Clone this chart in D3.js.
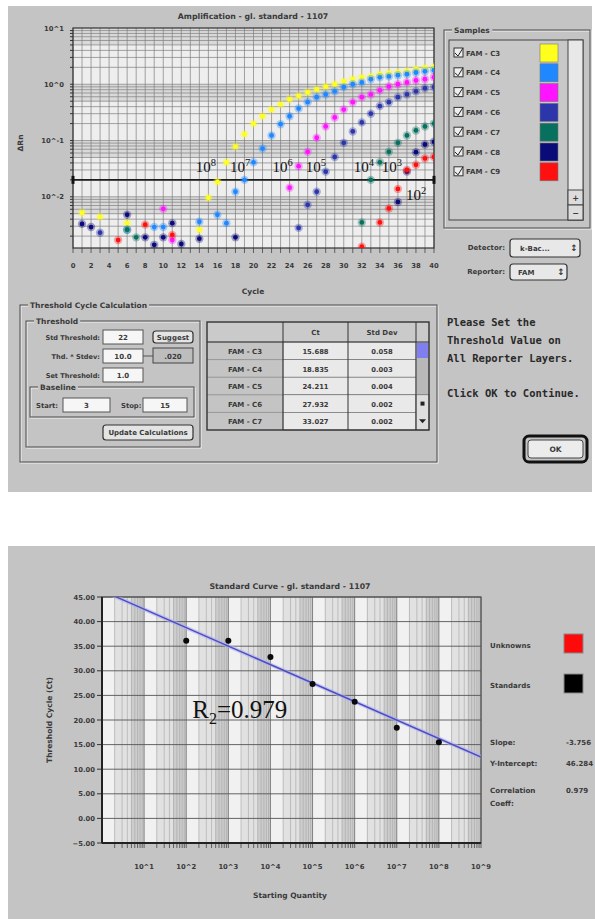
<!DOCTYPE html>
<html lang="en">
<head>
<meta charset="utf-8">
<title>Amplification - gl. standard - 1107</title>
<script src="https://d3js.org/d3.v7.min.js"></script>
<style>
  body { margin: 0; background: #fff; }
  svg { display: block; }
  .ui { font-family: "DejaVu Sans", sans-serif; font-weight: bold; fill: #3a3a3a; }
  .msg { font-family: "DejaVu Sans Mono", monospace; font-weight: bold; fill: #2a2a2a; }
  .serif { font-family: "Liberation Serif", "DejaVu Serif", serif; fill: #111; }
</style>
</head>
<body>
<svg id="chart" width="595" height="919"></svg>
<script>
// ---- amplification plot: [cycle, delta Rn] ----
const sampleNames = ["FAM - C3", "FAM - C4", "FAM - C5", "FAM - C6", "FAM - C7", "FAM - C8", "FAM - C9"];
const sampleColors = ["#ffff1e", "#2088ff", "#ff14ff", "#2c36aa", "#08705e", "#0a0a78", "#ff1010"];

const c3Rn = [[1, .0052], [3, .0044], [6, .0034], [14, .0026], [15, .0096], [16, .0185], [17, .041], [18, .078],
  [19, .129], [20, .20], [21, .27], [22, .355], [23, .44], [24, .54], [25, .62], [26, .72], [27, .81], [28, .91],
  [29, 1.0], [30, 1.12], [31, 1.23], [32, 1.33], [33, 1.38], [34, 1.51], [35, 1.58], [36, 1.62], [37, 1.70],
  [38, 1.86], [39, 1.95], [40, 2.05]];
const c4Rn = [[6, .0026], [9, .0029], [10, .0029], [14, .0036], [16, .0048], [17, .0034], [18, .0123], [19, .020],
  [20, .041], [21, .072], [22, .123], [23, .195], [24, .27], [25, .37], [26, .48], [27, .59], [28, .66], [29, .75],
  [30, .89], [31, 1.0], [32, 1.08], [33, 1.23], [34, 1.33], [35, 1.38], [36, 1.45], [37, 1.51], [38, 1.62],
  [39, 1.70], [40, 1.78]];
const c5Rn = [[10, .0061], [11, .0017], [24, .0145], [25, .035], [26, .063], [27, .112], [28, .178], [29, .257],
  [30, .355], [31, .48], [32, .59], [33, .66], [34, .78], [35, .91], [36, 1.0], [37, 1.08], [38, 1.17], [39, 1.23],
  [40, 1.33]];
const c6Rn = [[3, .0023], [25, .0028], [26, .0072], [27, .0123], [28, .028], [29, .051], [30, .091], [31, .145],
  [32, .21], [33, .30], [34, .41], [35, .48], [36, .59], [37, .66], [38, .75], [39, .85], [40, .89]];
const c7Rn = [[6, .0026], [7, .0019], [32, .0035], [33, .020], [34, .041], [35, .063], [36, .091], [37, .123],
  [38, .151], [39, .178], [40, .20]];
const c8Rn = [[1, .0033], [2, .0029], [6, .0048], [8, .0019], [9, .0014], [10, .0019], [11, .0034], [12, .00145],
  [14, .0018], [18, .0019], [36, .0081], [37, .028], [38, .062], [39, .085], [40, .095]];
const c9Rn = [[5, .0017], [8, .0032], [11, .0021], [32, .0013], [34, .0035], [35, .0062], [36, .0138], [37, .030],
  [38, .037], [39, .048], [40, .051]];
const sampleRn = [c3Rn, c4Rn, c5Rn, c6Rn, c7Rn, c8Rn, c9Rn];

const threshold = 0.02;
const cycleTicks = [0, 2, 4, 6, 8, 10, 12, 14, 16, 18, 20, 22, 24, 26, 28, 30, 32, 34, 36, 38, 40];
const rnTicks = [10, 1, 0.1, 0.01];
const rnTickLabels = ["10^1", "10^0", "10^-1", "10^-2"];

// dilution labels written on the plot: [exponent, cycle, delta Rn]
const dilutionLabels = [["8", 13.6, .028], ["7", 17.4, .028], ["6", 22.1, .028], ["5", 25.8, .028],
  ["4", 31.1, .028], ["3", 34.2, .028], ["2", 36.9, .0088]];

// Ct table
const tableNames = ["FAM - C3", "FAM - C4", "FAM - C5", "FAM - C6", "FAM - C7"];
const ctValues = ["15.688", "18.835", "24.211", "27.932", "33.027"];
const stdDevValues = ["0.058", "0.003", "0.004", "0.002", "0.002"];

// ---- standard curve ----
const stdQuantity = [1e2, 1e3, 1e4, 1e5, 1e6, 1e7, 1e8];
const stdCt = [36.1, 36.1, 32.8, 27.3, 23.7, 18.4, 15.5];
const fitSlope = -3.756;
const fitIntercept = 46.284;
const fitR = "0.979";
const ctTicks = [-5, 0, 5, 10, 15, 20, 25, 30, 35, 40, 45];
const qtyTicks = [1e1, 1e2, 1e3, 1e4, 1e5, 1e6, 1e7, 1e8, 1e9];
const qtyTickLabels = ["10^1", "10^2", "10^3", "10^4", "10^5", "10^6", "10^7", "10^8", "10^9"];

const svg = d3.select("#chart");

// window backgrounds
svg.append("rect").attr("x", 8).attr("y", 6).attr("width", 584).attr("height", 486).attr("fill", "#c4c4c4");
svg.append("rect").attr("x", 8).attr("y", 546).attr("width", 587).attr("height", 373).attr("fill", "#c4c4c4");

function label(g, x, y, str, size, anchor, cls) {
    return g.append("text")
        .attr("class", cls || "ui")
        .attr("x", x).attr("y", y)
        .attr("font-size", size)
        .attr("text-anchor", anchor || "start")
        .text(str);
}

function groupBox(g, x, y, w, h, title) {
    g.append("rect").attr("x", x + 1).attr("y", y + 1).attr("width", w).attr("height", h)
        .attr("fill", "none").attr("stroke", "#f2f2f2");
    g.append("rect").attr("x", x).attr("y", y).attr("width", w).attr("height", h)
        .attr("fill", "none").attr("stroke", "#4a4a4a");
    if (title) {
        let t = label(g, x + 10, y + 3, title, 7.5);
        let bb = t.node().getBBox();
        g.insert("rect", () => t.node())
            .attr("x", bb.x - 2).attr("y", bb.y).attr("width", bb.width + 4).attr("height", bb.height)
            .attr("fill", "#c4c4c4");
    }
}

function inputBox(g, x, y, w, h, str) {
    g.append("rect").attr("x", x).attr("y", y).attr("width", w).attr("height", h)
        .attr("fill", "#f6f6f6").attr("stroke", "#555");
    label(g, x + w / 2, y + h / 2 + 2.5, str, 7, "middle").attr("font-weight", "normal");
}

function button(g, x, y, w, h, str) {
    g.append("rect").attr("x", x).attr("y", y).attr("width", w).attr("height", h).attr("rx", 3)
        .attr("fill", "#e4e4e4").attr("stroke", "#333").attr("stroke-width", 1.2);
    label(g, x + w / 2, y + h / 2 + 2.5, str, 7, "middle");
}

// ================= amplification plot =================
const amp = { left: 73, right: 434, top: 28, bottom: 248 };
const xCycle = d3.scaleLinear().domain([0, 40]).range([amp.left, amp.right]);
const yRn = d3.scaleLog().domain([0.00123, 10]).range([amp.bottom, amp.top]);

const ampG = svg.append("g");
svg.append("clipPath").attr("id", "ampClip").append("rect")
    .attr("x", amp.left).attr("y", amp.top).attr("width", amp.right - amp.left).attr("height", amp.bottom - amp.top);

ampG.append("rect").attr("x", amp.left).attr("y", amp.top)
    .attr("width", amp.right - amp.left).attr("height", amp.bottom - amp.top).attr("fill", "#eeeeee");

const decadeTops = [10, 1, 0.1, 0.01];
ampG.selectAll("rect.band").data(decadeTops).join("rect")
    .attr("class", "band")
    .attr("x", amp.left).attr("width", amp.right - amp.left)
    .attr("y", d => yRn(d))
    .attr("height", d => yRn(d * 0.5) - yRn(d))
    .attr("fill", "#d9d9d9");

let minorRn = [];
[-3, -2, -1, 0].forEach(k => {
    for (let m = 1; m <= 9; m++) {
        let v = m * Math.pow(10, k);
        if (v >= yRn.domain()[0] && v <= 10) minorRn.push(v);
    }
});

ampG.selectAll("line.hgrid").data(minorRn).join("line")
    .attr("class", "hgrid")
    .attr("x1", amp.left).attr("x2", amp.right)
    .attr("y1", d => yRn(d)).attr("y2", d => yRn(d))
    .attr("stroke", "#7e7e7e").attr("stroke-width", 0.7);

ampG.selectAll("line.vgrid").data(d3.range(0, 41)).join("line")
    .attr("class", "vgrid")
    .attr("x1", d => xCycle(d)).attr("x2", d => xCycle(d))
    .attr("y1", amp.top).attr("y2", amp.bottom)
    .attr("stroke", "#7e7e7e").attr("stroke-width", 0.7);

// small ticks outside the frame
ampG.selectAll("line.ltick").data(minorRn).join("line")
    .attr("class", "ltick")
    .attr("x1", amp.left - 3).attr("x2", amp.left)
    .attr("y1", d => yRn(d)).attr("y2", d => yRn(d))
    .attr("stroke", "#333");
ampG.selectAll("line.btick").data(d3.range(0, 41)).join("line")
    .attr("class", "btick")
    .attr("x1", d => xCycle(d)).attr("x2", d => xCycle(d))
    .attr("y1", amp.bottom).attr("y2", amp.bottom + 5)
    .attr("stroke", "#444").attr("stroke-width", 0.8);

ampG.append("rect").attr("x", amp.left).attr("y", amp.top)
    .attr("width", amp.right - amp.left).attr("height", amp.bottom - amp.top)
    .attr("fill", "none").attr("stroke", "#333").attr("stroke-width", 1.2);

// threshold line
ampG.append("line")
    .attr("x1", xCycle(0)).attr("x2", xCycle(40))
    .attr("y1", yRn(threshold)).attr("y2", yRn(threshold))
    .attr("stroke", "#1e1e1e").attr("stroke-width", 1.6);
ampG.selectAll("rect.thEnd").data([0, 40]).join("rect")
    .attr("class", "thEnd")
    .attr("x", d => xCycle(d) - 1.5).attr("y", yRn(threshold) - 4)
    .attr("width", 3).attr("height", 8).attr("fill", "#111");

// sample points
const pts = ampG.append("g").attr("clip-path", "url(#ampClip)");
sampleRn.forEach((series, i) => {
    let sg = pts.append("g");
    sg.selectAll("circle.halo").data(series).join("circle")
        .attr("class", "halo")
        .attr("cx", d => xCycle(d[0])).attr("cy", d => yRn(d[1]))
        .attr("r", 4.2).attr("fill", sampleColors[i]).attr("opacity", 0.35);
    sg.selectAll("circle.dot").data(series).join("circle")
        .attr("class", "dot")
        .attr("cx", d => xCycle(d[0])).attr("cy", d => yRn(d[1]))
        .attr("r", 2.4).attr("fill", sampleColors[i]);
});

// dilution labels
dilutionLabels.forEach(d => {
    let t = ampG.append("text").attr("class", "serif")
        .attr("x", xCycle(d[1])).attr("y", yRn(d[2]))
        .attr("font-size", 15).text("10");
    t.append("tspan").attr("dy", -6).attr("font-size", 10.5).text(d[0]);
});

// axes text
label(svg, 253, 19, "Amplification - gl. standard - 1107", 7.8, "middle");
rnTicks.forEach((v, i) => {
    label(svg, 64, yRn(v) + 2.5, rnTickLabels[i], 6.8, "end").attr("fill", "#555");
});
cycleTicks.forEach(c => {
    label(svg, xCycle(c), 268, String(c), 6.8, "middle").attr("fill", "#555");
});
label(svg, 253, 294, "Cycle", 7.5, "middle");
label(svg, 0, 0, "\u0394Rn", 7.5, "middle")
    .attr("transform", "translate(23,143) rotate(-90)");

// ---- samples legend ----
const legG = svg.append("g");
groupBox(legG, 444, 30, 146, 198, "Samples");
legG.append("rect").attr("x", 449).attr("y", 40).attr("width", 134).attr("height", 180)
    .attr("fill", "#c8c8c8").attr("stroke", "#444");
legG.append("rect").attr("x", 568).attr("y", 40).attr("width", 15).attr("height", 180)
    .attr("fill", "#e8e8e8").attr("stroke", "#444");
legG.selectAll("rect.arrowBtn").data([190, 205]).join("rect")
    .attr("class", "arrowBtn")
    .attr("x", 568).attr("y", d => d).attr("width", 15).attr("height", 15)
    .attr("fill", "#dcdcdc").attr("stroke", "#444");
label(legG, 575.5, 201, "+", 8, "middle").attr("font-weight", "normal");
label(legG, 575.5, 216, "\u2212", 8, "middle").attr("font-weight", "normal");

const rowY = i => 53 + i * 19.8;
sampleNames.forEach((name, i) => {
    let y = rowY(i);
    legG.append("rect").attr("x", 454).attr("y", y - 5).attr("width", 9).attr("height", 9)
        .attr("fill", "#eee").attr("stroke", "#333");
    legG.append("path").attr("d", `M455,${y} l3,3 l5,-8`).attr("fill", "none").attr("stroke", "#222").attr("stroke-width", 1);
    label(legG, 466, y + 2.5, name, 7).attr("font-weight", "normal");
    legG.append("rect").attr("x", 540).attr("y", y - 9).attr("width", 18).attr("height", 18)
        .attr("fill", sampleColors[i]).attr("stroke", "#777").attr("stroke-width", 0.6);
});

// detector / reporter popups
label(svg, 505, 250, "Detector:", 7, "end").attr("font-weight", "normal");
svg.append("rect").attr("x", 510).attr("y", 239).attr("width", 70).attr("height", 18).attr("rx", 3)
    .attr("fill", "#e8e8e8").attr("stroke", "#333").attr("stroke-width", 1.2);
label(svg, 520, 251, "k-Bac...", 7).attr("font-weight", "normal");
label(svg, 574, 251, "\u2195", 9, "middle");
label(svg, 505, 274, "Reporter:", 7, "end").attr("font-weight", "normal");
svg.append("rect").attr("x", 510).attr("y", 264).attr("width", 57).attr("height", 16).attr("rx", 3)
    .attr("fill", "#e8e8e8").attr("stroke", "#333").attr("stroke-width", 1.2);
label(svg, 518, 275, "FAM", 7).attr("font-weight", "normal");
label(svg, 561, 275, "\u2195", 9, "middle");

// ---- threshold cycle calculation ----
const tcG = svg.append("g");
groupBox(tcG, 20, 305, 417, 157, "Threshold Cycle Calculation");
groupBox(tcG, 26, 321, 174, 126, "Threshold");

const thLabels = ["Std Threshold:", "Thd. * Stdev:", "Set Threshold:"];
const thValues = ["22", "10.0", "1.0"];
thLabels.forEach((t, i) => {
    let y = 330 + i * 19;
    label(tcG, 100, y + 10, t, 6.6, "end").attr("font-weight", "normal").attr("fill", "#555");
    inputBox(tcG, 103, y, 40, 14, thValues[i]);
});
button(tcG, 153, 331, 40, 12, "Suggest");
tcG.append("rect").attr("x", 153).attr("y", 348).attr("width", 40).attr("height", 15)
    .attr("fill", "#bdbdbd").attr("stroke", "#444");
label(tcG, 173, 358.5, ".020", 7, "middle").attr("font-weight", "normal");
tcG.append("path").attr("d", "M143,356 L153,356").attr("stroke", "#555");

groupBox(tcG, 30, 387, 164, 30, "Baseline");
label(tcG, 36, 408, "Start:", 6.8).attr("font-weight", "normal").attr("fill", "#555");
inputBox(tcG, 63, 398, 47, 14, "3");
label(tcG, 121, 408, "Stop:", 6.8).attr("font-weight", "normal").attr("fill", "#555");
inputBox(tcG, 143, 398, 44, 14, "15");
button(tcG, 103, 425, 90, 15, "Update Calculations");

// table
const tab = { x0: 207, x1: 283, x2: 348, x3: 416, x4: 429, top: 322, head: 342, rowH: 17.6 };
tcG.append("rect").attr("x", tab.x0).attr("y", tab.top).attr("width", tab.x4 - tab.x0).attr("height", tab.head - tab.top)
    .attr("fill", "#cacaca");
label(tcG, (tab.x1 + tab.x2) / 2, 335, "Ct", 7, "middle");
label(tcG, (tab.x2 + tab.x3) / 2, 335, "Std Dev", 7, "middle");
tableNames.forEach((n, i) => {
    let y = tab.head + i * tab.rowH;
    tcG.append("rect").attr("x", tab.x1).attr("y", y).attr("width", tab.x3 - tab.x1).attr("height", tab.rowH)
        .attr("fill", "#e9e9e9").attr("stroke", "#666").attr("stroke-width", 0.6);
    label(tcG, (tab.x0 + tab.x1) / 2, y + 12, n, 7, "middle");
    label(tcG, (tab.x1 + tab.x2) / 2, y + 12, ctValues[i], 6.8, "middle").attr("font-weight", "normal").attr("fill", "#555");
    label(tcG, (tab.x2 + tab.x3) / 2, y + 12, stdDevValues[i], 6.8, "middle").attr("font-weight", "normal").attr("fill", "#555");
    tcG.append("line").attr("x1", tab.x0).attr("x2", tab.x1).attr("y1", y).attr("y2", y).attr("stroke", "#777").attr("stroke-width", 0.6);
});
const tabBottom = tab.head + tableNames.length * tab.rowH;
tcG.append("rect").attr("x", tab.x3).attr("y", tab.head).attr("width", tab.x4 - tab.x3).attr("height", tabBottom - tab.head)
    .attr("fill", "#b8b8b8");
tcG.append("rect").attr("x", tab.x3 + 1).attr("y", tab.head + 1).attr("width", tab.x4 - tab.x3 - 2).attr("height", 15)
    .attr("fill", "#7f7ff0");
tcG.append("rect").attr("x", tab.x3).attr("y", tab.head + 3 * tab.rowH).attr("width", tab.x4 - tab.x3).attr("height", 2 * tab.rowH)
    .attr("fill", "#dedede").attr("stroke", "#555").attr("stroke-width", 0.6);
tcG.append("rect").attr("x", tab.x3 + 4.5).attr("y", tab.head + 3.5 * tab.rowH - 2).attr("width", 4).attr("height", 4).attr("fill", "#222");
tcG.append("path").attr("d", `M${tab.x3 + 3},${tab.head + 4.5 * tab.rowH - 2} l7,0 l-3.5,4 z`).attr("fill", "#222");
[tab.x1, tab.x2, tab.x3].forEach(x => {
    tcG.append("line").attr("x1", x).attr("x2", x).attr("y1", tab.top).attr("y2", tabBottom).attr("stroke", "#333");
});
tcG.append("line").attr("x1", tab.x0).attr("x2", tab.x4).attr("y1", tab.head).attr("y2", tab.head).attr("stroke", "#333").attr("stroke-width", 1.2);
tcG.append("rect").attr("x", tab.x0).attr("y", tab.top).attr("width", tab.x4 - tab.x0).attr("height", tabBottom - tab.top)
    .attr("fill", "none").attr("stroke", "#333").attr("stroke-width", 1.4);

// message + OK
const msgLines = ["Please Set the", "Threshold Value on", "All Reporter Layers.", "", "Click OK to Continue."];
msgLines.forEach((m, i) => label(svg, 447, 326 + i * 17.8, m, 10.5, "start", "msg"));
svg.append("rect").attr("x", 524).attr("y", 436).attr("width", 63).attr("height", 26).attr("rx", 5)
    .attr("fill", "none").attr("stroke", "#111").attr("stroke-width", 3);
svg.append("rect").attr("x", 528).attr("y", 440).attr("width", 55).attr("height", 18).attr("rx", 3)
    .attr("fill", "#ececec").attr("stroke", "#444");
label(svg, 555.5, 452, "OK", 7.5, "middle").attr("font-weight", "normal").attr("fill", "#777");

// ================= standard curve =================
const sc = { left: 102, right: 481, top: 597, bottom: 843 };
const xQty = d3.scaleLog().domain([1, 1e9]).range([sc.left, sc.right]);
const yCt = d3.scaleLinear().domain([-5, 45]).range([sc.bottom, sc.top]);

const scG = svg.append("g");
svg.append("clipPath").attr("id", "scClip").append("rect")
    .attr("x", sc.left).attr("y", sc.top).attr("width", sc.right - sc.left).attr("height", sc.bottom - sc.top);

let qtyBands = [];
for (let n = 0; n < 9; n++) {
    let b = Math.pow(10, n);
    qtyBands.push([b, 2 * b, "#f1f1f1"], [2 * b, 5 * b, "#e1e1e1"], [5 * b, 10 * b, "#cdcdcd"]);
}
scG.selectAll("rect.qband").data(qtyBands).join("rect")
    .attr("class", "qband")
    .attr("x", d => xQty(d[0])).attr("width", d => xQty(d[1]) - xQty(d[0]))
    .attr("y", sc.top).attr("height", sc.bottom - sc.top)
    .attr("fill", d => d[2]);

let minorQty = [];
for (let n = 0; n < 9; n++) for (let m = 2; m <= 9; m++) minorQty.push(m * Math.pow(10, n));

scG.selectAll("line.qminor").data(minorQty).join("line")
    .attr("class", "qminor")
    .attr("x1", d => xQty(d)).attr("x2", d => xQty(d))
    .attr("y1", sc.top).attr("y2", sc.bottom)
    .attr("stroke", "#a4a4a4").attr("stroke-width", 0.6);
scG.selectAll("line.qmajor").data(qtyTicks).join("line")
    .attr("class", "qmajor")
    .attr("x1", d => xQty(d)).attr("x2", d => xQty(d))
    .attr("y1", sc.top).attr("y2", sc.bottom)
    .attr("stroke", "#6a6a6a").attr("stroke-width", 0.8);
scG.selectAll("line.ctgrid").data(ctTicks).join("line")
    .attr("class", "ctgrid")
    .attr("x1", sc.left).attr("x2", sc.right)
    .attr("y1", d => yCt(d)).attr("y2", d => yCt(d))
    .attr("stroke", "#555").attr("stroke-width", 0.9);

// ticks
scG.selectAll("line.qtick").data(minorQty.concat(qtyTicks)).join("line")
    .attr("class", "qtick")
    .attr("x1", d => xQty(d)).attr("x2", d => xQty(d))
    .attr("y1", sc.bottom).attr("y2", sc.bottom + 5)
    .attr("stroke", "#444").attr("stroke-width", 0.8);
scG.selectAll("line.cttick").data(ctTicks).join("line")
    .attr("class", "cttick")
    .attr("x1", sc.left - 5).attr("x2", sc.left)
    .attr("y1", d => yCt(d)).attr("y2", d => yCt(d))
    .attr("stroke", "#333");

scG.append("rect").attr("x", sc.left).attr("y", sc.top)
    .attr("width", sc.right - sc.left).attr("height", sc.bottom - sc.top)
    .attr("fill", "none").attr("stroke", "#555").attr("stroke-width", 1.2);
scG.append("line").attr("x1", sc.left).attr("x2", sc.left).attr("y1", sc.top).attr("y2", sc.bottom)
    .attr("stroke", "#222").attr("stroke-width", 2);
scG.append("line").attr("x1", sc.left).attr("x2", sc.right).attr("y1", sc.bottom).attr("y2", sc.bottom)
    .attr("stroke", "#222").attr("stroke-width", 2);

// fit line
const fitQty = [1, 1e9];
const fitLine = d3.line()
    .x(d => xQty(d))
    .y(d => yCt(fitSlope * Math.log10(d) + fitIntercept));
const fitG = scG.append("g").attr("clip-path", "url(#scClip)");
fitG.append("path").datum(fitQty).attr("d", fitLine)
    .attr("fill", "none").attr("stroke", "#b0b0f0").attr("stroke-width", 4).attr("opacity", 0.6);
fitG.append("path").datum(fitQty).attr("d", fitLine)
    .attr("fill", "none").attr("stroke", "#4c4cc4").attr("stroke-width", 1.4);

// standards
const stdPts = stdQuantity.map((q, i) => [q, stdCt[i]]);
fitG.selectAll("circle.std").data(stdPts).join("circle")
    .attr("class", "std")
    .attr("cx", d => xQty(d[0])).attr("cy", d => yCt(d[1]))
    .attr("r", 3).attr("fill", "#0a0a0a");

label(svg, 290, 589, "Standard Curve - gl. standard - 1107", 7.8, "middle");
ctTicks.forEach(v => label(svg, 95, yCt(v) + 2.5, d3.format(".2f")(v), 6.8, "end").attr("fill", "#555"));
qtyTicks.forEach((q, i) => label(svg, xQty(q), 869, qtyTickLabels[i], 6.8, "middle").attr("fill", "#555"));
label(svg, 290, 898, "Starting Quantity", 7.5, "middle");
label(svg, 0, 0, "Threshold Cycle (Ct)", 7.5, "middle")
    .attr("transform", "translate(52,720) rotate(-90)");

// R2 annotation
const r2 = svg.append("text").attr("class", "serif")
    .attr("x", xQty(1e2) + 6).attr("y", yCt(25) + 23).attr("font-size", 25).text("R");
r2.append("tspan").attr("dy", 6).attr("font-size", 16).text("2");
r2.append("tspan").attr("dy", -6).attr("font-size", 25).text("=" + fitR);

// right legend and fit summary
label(svg, 490, 648, "Unknowns", 7, "start").attr("font-weight", "normal").attr("fill", "#666");
svg.append("rect").attr("x", 564).attr("y", 634).attr("width", 19).attr("height", 19).attr("fill", "#ff0a0a").attr("stroke", "#888");
label(svg, 490, 688, "Standards", 7, "start").attr("font-weight", "normal").attr("fill", "#666");
svg.append("rect").attr("x", 564).attr("y", 674).attr("width", 19).attr("height", 19).attr("fill", "#000").attr("stroke", "#888");
label(svg, 490, 745, "Slope:", 7.2);
label(svg, 566, 745, String(fitSlope), 7, "start").attr("font-weight", "normal").attr("fill", "#666");
label(svg, 490, 766, "Y-Intercept:", 7.2);
label(svg, 566, 766, String(fitIntercept), 7, "start").attr("font-weight", "normal").attr("fill", "#666");
label(svg, 490, 793, "Correlation", 7.2);
label(svg, 490, 806, "Coeff:", 7.2);
label(svg, 566, 793, fitR, 7, "start").attr("font-weight", "normal").attr("fill", "#666");
</script>
</body>
</html>
